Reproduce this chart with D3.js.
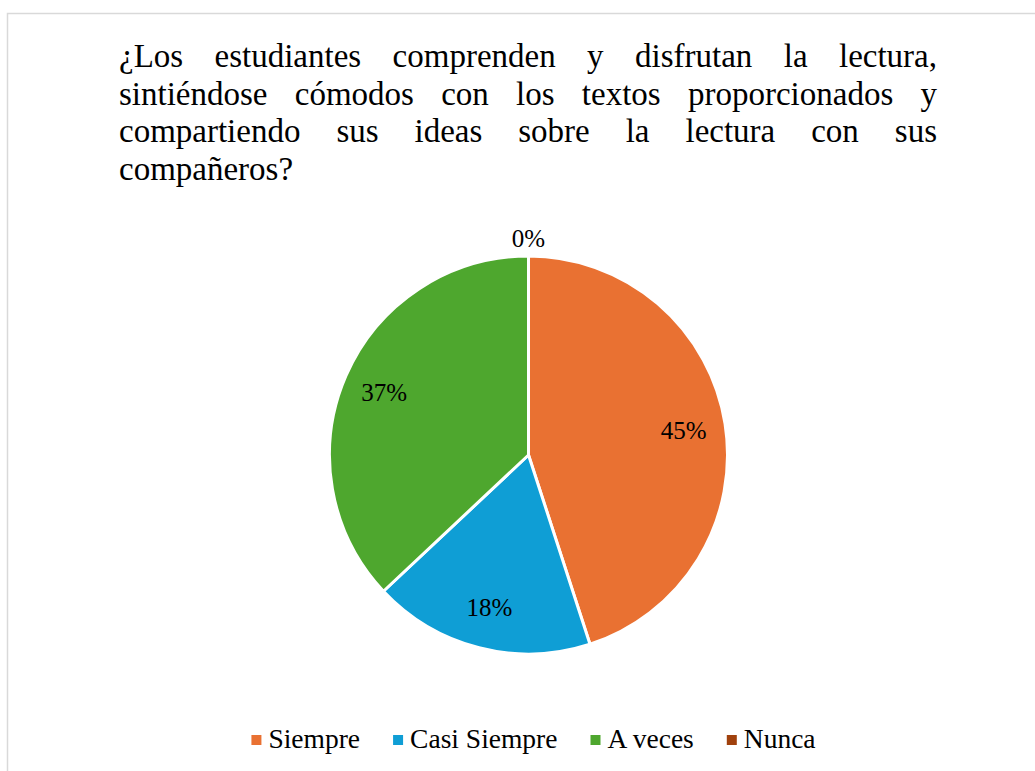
<!DOCTYPE html>
<html>
<head>
<meta charset="utf-8">
<script src="https://cdn.jsdelivr.net/npm/d3@7"></script>
<style>
  body { margin: 0; background: #fff; }
  svg { display: block; }
</style>
</head>
<body>
<div id="chart"></div>
<script>
var titleLines = [
    "¿Los estudiantes comprenden y disfrutan la lectura,",
    "sintiéndose cómodos con los textos proporcionados y",
    "compartiendo sus ideas sobre la lectura con sus",
    "compañeros?"
];
var categories = ["Siempre", "Casi Siempre", "A veces", "Nunca"];
var values = [45, 18, 37, 0];
var colors = ["#E97132", "#0F9ED5", "#4EA72E", "#A0410D"];

var width = 1035, height = 771;
var font = "'Liberation Serif', 'Times New Roman', serif";

var svg = d3.select("#chart")
    .append("svg")
    .attr("width", width)
    .attr("height", height);

// chart area border (runs off the right and bottom of the picture)
svg.append("rect")
    .attr("x", 7.5).attr("y", 13.5)
    .attr("width", 1100).attr("height", 800)
    .attr("fill", "#fff")
    .attr("stroke", "#d9d9d9")
    .attr("stroke-width", 1.5);

// justified title
var titleLeft = 119, titleRight = 937, titleTop = 67, lineGap = 37.7;
titleLines.forEach(function(line, i){
    var words = line.split(" ");
    var y = titleTop + i * lineGap;
    var g = svg.append("g");
    var nodes = words.map(function(w){
        return g.append("text")
            .attr("y", y)
            .style("font-family", font)
            .style("font-size", "33px")
            .attr("fill", "#000")
            .text(w);
    });
    var widths = nodes.map(function(n){ return n.node().getComputedTextLength(); });
    var last = i === titleLines.length - 1;
    var gap = last ? 9 : (titleRight - titleLeft - d3.sum(widths)) / (words.length - 1);
    var x = titleLeft;
    nodes.forEach(function(n, j){
        n.attr("x", x);
        x += widths[j] + gap;
    });
});

// pie
var cx = 528.5, cy = 455, radius = 199;
var pie = d3.pie().sort(null).value(function(d){ return d; });
var arcs = pie(values);
var arc = d3.arc().innerRadius(0).outerRadius(radius);
var labelArc = d3.arc().innerRadius(radius * 0.79).outerRadius(radius * 0.79);
var outerArc = d3.arc().innerRadius(radius + 18).outerRadius(radius + 18);

var pg = svg.append("g").attr("transform", "translate(" + cx + "," + cy + ")");
pg.selectAll("path")
    .data(arcs)
    .enter().append("path")
    .attr("d", arc)
    .attr("fill", function(d, i){ return colors[i]; })
    .attr("stroke", "#fff")
    .attr("stroke-width", 3)
    .attr("stroke-linejoin", "round");

pg.selectAll("text.lbl")
    .data(arcs)
    .enter().append("text")
    .attr("class", "lbl")
    .attr("transform", function(d){
        var c = d.value === 0 ? outerArc.centroid(d) : labelArc.centroid(d);
        return "translate(" + c + ")";
    })
    .attr("text-anchor", "middle")
    .attr("dy", "0.35em")
    .style("font-family", font)
    .style("font-size", "25px")
    .attr("fill", "#000")
    .text(function(d){ return d.value + "%"; });

// legend
var legend = svg.append("g");
var items = categories.map(function(c, i){
    var g = legend.append("g");
    g.append("rect")
        .attr("x", 0).attr("y", 735)
        .attr("width", 10).attr("height", 10)
        .attr("fill", colors[i]);
    var t = g.append("text")
        .attr("x", 17).attr("y", 748)
        .style("font-family", font)
        .style("font-size", "27.5px")
        .attr("fill", "#000")
        .text(c);
    return { g: g, w: 17 + t.node().getComputedTextLength() };
});
var total = d3.sum(items, function(d){ return d.w; }) + 33 * (items.length - 1);
var lx = 533.5 - total / 2;
items.forEach(function(it){
    it.g.attr("transform", "translate(" + lx + ",0)");
    lx += it.w + 33;
});
</script>
</body>
</html>
